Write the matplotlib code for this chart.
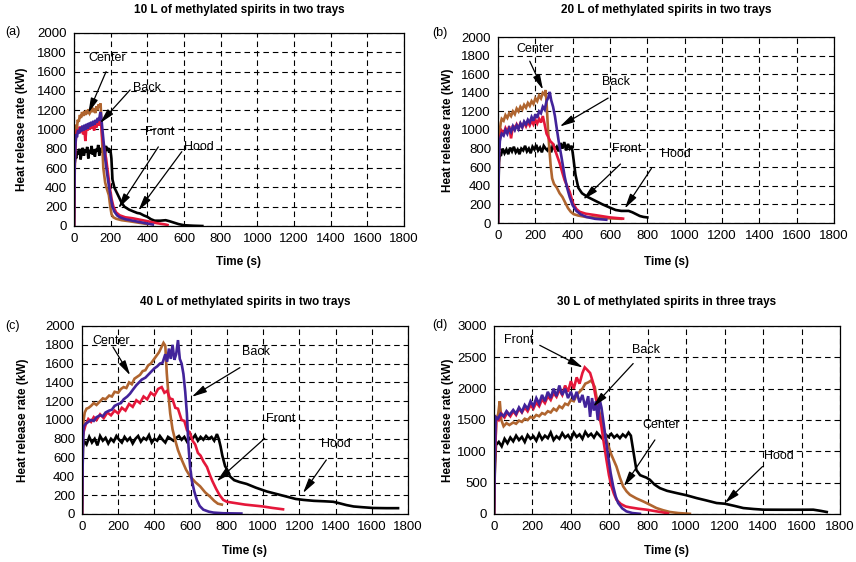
import matplotlib
matplotlib.use("Agg")
import matplotlib.pyplot as plt

# --- Data: (time s, heat release rate kW) ---

# (a) 10 L of methylated spirits in two trays
a_hood = [(0, 0), (4, 650), (8, 720), (12, 700), (18, 780), (24, 740), (30, 800), (36, 690), (42, 770),
          (48, 810), (54, 730), (60, 790), (66, 760), (72, 820), (78, 700), (84, 780), (90, 750), (96, 830),
          (102, 740), (108, 790), (114, 720), (120, 800), (126, 770), (132, 840), (138, 730), (144, 810),
          (150, 760), (156, 790), (162, 850), (168, 720), (174, 830), (180, 780), (186, 810), (192, 760),
          (198, 800), (204, 700), (210, 480), (220, 400), (230, 360), (245, 300), (260, 240), (275, 200),
          (300, 170), (325, 150), (345, 135), (360, 130), (380, 110), (400, 95), (420, 70), (440, 55),
          (470, 55), (500, 60), (520, 50), (545, 35), (570, 20), (600, 8), (650, 3), (700, 0)]
a_center = [(0, 0), (4, 700), (8, 950), (12, 1050), (16, 1000), (20, 1100), (26, 1080), (32, 1150),
            (38, 1120), (44, 1180), (50, 1140), (56, 1190), (62, 1150), (68, 1200), (74, 1160), (80, 1210),
            (86, 1170), (92, 1190), (98, 1230), (104, 1180), (110, 1220), (116, 1170), (122, 1240),
            (128, 1200), (134, 1260), (140, 1230), (145, 1270), (150, 1050), (155, 800), (160, 600),
            (170, 450), (180, 380), (190, 320), (198, 200), (205, 120), (215, 90), (230, 75), (260, 60),
            (300, 50), (350, 35), (400, 20)]
a_front = [(0, 0), (5, 700), (10, 900), (15, 980), (20, 1000), (26, 960), (32, 1030), (38, 990), (44, 1010),
           (50, 950), (56, 1020), (62, 880), (68, 1030), (74, 990), (80, 1040), (86, 1000), (92, 1050),
           (98, 1010), (104, 1040), (110, 990), (116, 1060), (122, 1020), (128, 1070), (134, 1040),
           (140, 1100), (148, 1050), (155, 900), (165, 800), (175, 700), (185, 550), (195, 400), (205, 280),
           (215, 200), (230, 140), (250, 110), (280, 90), (320, 80), (360, 65), (400, 50), (450, 30),
           (500, 15), (510, 10)]
a_back = [(0, 0), (4, 650), (8, 850), (12, 950), (16, 920), (22, 990), (28, 960), (34, 1020), (40, 980),
          (46, 1040), (52, 990), (58, 1050), (64, 1000), (70, 1060), (76, 1010), (82, 1070), (88, 1030),
          (94, 1080), (100, 1040), (106, 1090), (112, 1050), (118, 1100), (124, 1070), (130, 1120),
          (136, 1090), (142, 1160), (146, 1180), (150, 1100), (160, 900), (170, 700), (180, 550), (190, 420),
          (200, 300), (210, 200), (220, 150), (235, 110), (250, 90), (280, 70), (320, 55), (360, 40),
          (400, 25), (430, 15)]

# (b) 20 L of methylated spirits in two trays
b_hood = [(0, 0), (5, 650), (10, 760), (15, 720), (25, 800), (35, 750), (45, 790), (55, 740), (65, 810),
          (75, 770), (85, 820), (95, 760), (105, 790), (115, 740), (125, 800), (135, 780), (145, 830),
          (155, 770), (165, 800), (175, 750), (185, 820), (195, 790), (205, 840), (215, 780), (225, 810),
          (235, 760), (245, 830), (255, 800), (265, 780), (275, 820), (285, 760), (295, 850), (305, 790),
          (315, 820), (325, 770), (335, 860), (345, 800), (355, 870), (365, 780), (375, 850), (385, 800),
          (395, 830), (405, 680), (415, 520), (430, 380), (450, 320), (480, 280), (520, 240), (560, 200),
          (600, 165), (630, 140), (660, 130), (700, 130), (720, 115), (740, 95), (760, 75), (780, 65),
          (800, 60)]
b_center = [(0, 0), (5, 800), (10, 1000), (15, 1080), (20, 1120), (30, 1100), (40, 1160), (50, 1130),
            (60, 1180), (70, 1150), (80, 1200), (90, 1170), (100, 1230), (110, 1200), (120, 1250),
            (130, 1220), (140, 1270), (150, 1240), (160, 1290), (170, 1260), (180, 1310), (190, 1280),
            (200, 1340), (210, 1310), (220, 1370), (230, 1340), (240, 1400), (250, 1380), (255, 1430),
            (260, 1300), (268, 1000), (275, 800), (282, 620), (290, 480), (300, 420), (315, 380), (330, 320),
            (345, 280), (360, 220), (375, 160), (390, 120), (405, 95), (430, 80), (470, 65), (530, 58),
            (600, 50), (660, 45)]
b_front = [(0, 0), (5, 750), (10, 920), (15, 950), (20, 990), (30, 960), (40, 1020), (50, 980), (60, 1040),
           (70, 910), (80, 1050), (90, 1010), (100, 1060), (110, 1020), (120, 1070), (130, 1030), (140, 1080),
           (150, 1040), (160, 1090), (170, 1050), (180, 1100), (190, 1060), (200, 1110), (210, 1070),
           (220, 1120), (230, 1080), (240, 1150), (250, 1060), (260, 960), (268, 930), (280, 880), (295, 850),
           (310, 760), (331, 640), (345, 540), (357, 460), (370, 400), (384, 335), (395, 260), (402, 210),
           (420, 150), (438, 120), (470, 100), (527, 83), (600, 60), (670, 47)]
b_back = [(0, 0), (5, 700), (10, 880), (15, 930), (20, 960), (30, 940), (40, 1000), (50, 960), (60, 1020),
          (70, 980), (80, 1040), (90, 1000), (100, 1050), (110, 1010), (120, 1070), (130, 1030), (140, 1090),
          (150, 1060), (160, 1110), (170, 1080), (180, 1140), (190, 1100), (200, 1170), (210, 1130),
          (220, 1200), (230, 1180), (240, 1250), (250, 1220), (260, 1310), (270, 1350), (277, 1410),
          (285, 1320), (295, 1250), (305, 1150), (313, 1040), (325, 880), (340, 710), (357, 500), (370, 380),
          (384, 280), (400, 190), (420, 130), (445, 90), (474, 65), (520, 45), (580, 35)]

# (c) 40 L of methylated spirits in two trays
c_hood = [(0, 0), (5, 700), (10, 780), (25, 740), (40, 820), (55, 760), (70, 800), (85, 730), (100, 830),
          (115, 780), (130, 810), (145, 750), (160, 800), (175, 770), (190, 830), (205, 790), (220, 760),
          (235, 820), (250, 780), (265, 810), (280, 750), (295, 800), (310, 830), (325, 770), (340, 810),
          (355, 790), (370, 840), (385, 760), (400, 800), (415, 780), (430, 830), (445, 790), (460, 760),
          (475, 820), (490, 800), (505, 780), (520, 810), (535, 830), (550, 790), (565, 820), (580, 770),
          (595, 810), (610, 800), (625, 840), (640, 780), (655, 820), (670, 790), (685, 830), (700, 800),
          (715, 820), (730, 780), (745, 850), (755, 800), (765, 720), (775, 620), (790, 510), (805, 460),
          (817, 400), (840, 360), (870, 340), (909, 320), (960, 280), (1020, 240), (1080, 210), (1130, 185),
          (1180, 160), (1222, 150), (1280, 140), (1340, 135), (1387, 130), (1420, 115), (1460, 95),
          (1500, 80), (1550, 72), (1607, 64), (1680, 62), (1745, 62)]
c_center = [(0, 0), (5, 800), (9, 1000), (15, 1080), (25, 1120), (37, 1130), (50, 1150), (65, 1180),
            (80, 1160), (100, 1200), (115, 1230), (130, 1220), (150, 1260), (165, 1250), (180, 1300),
            (200, 1290), (215, 1330), (230, 1350), (245, 1340), (260, 1400), (275, 1380), (290, 1440),
            (305, 1460), (320, 1480), (335, 1520), (350, 1530), (365, 1580), (380, 1600), (395, 1640),
            (410, 1680), (425, 1720), (440, 1780), (450, 1820), (460, 1790), (468, 1500), (478, 1250),
            (487, 1070), (500, 900), (514, 790), (530, 680), (551, 575), (575, 470), (597, 400), (625, 340),
            (652, 295), (680, 230), (707, 185), (730, 140), (750, 110), (772, 100)]
c_front = [(0, 0), (3, 820), (10, 880), (20, 950), (35, 1010), (50, 980), (65, 1030), (80, 1000),
           (100, 1060), (120, 1020), (140, 1080), (160, 1050), (180, 1100), (200, 1070), (220, 1130),
           (240, 1100), (260, 1170), (280, 1140), (300, 1210), (320, 1180), (340, 1250), (360, 1220),
           (380, 1290), (400, 1260), (420, 1330), (440, 1350), (455, 1290), (470, 1310), (485, 1230),
           (500, 1220), (515, 1130), (530, 1120), (550, 1000), (565, 990), (580, 890), (595, 870), (610, 780),
           (625, 740), (640, 650), (655, 620), (670, 560), (690, 500), (705, 420), (720, 350), (740, 270),
           (760, 200), (780, 150), (800, 130), (850, 115), (900, 100), (950, 90), (1000, 80), (1050, 65),
           (1110, 50)]
c_back = [(0, 0), (5, 700), (9, 930), (20, 960), (35, 980), (50, 1000), (65, 990), (80, 1030), (100, 1050),
          (115, 1040), (130, 1080), (150, 1100), (165, 1110), (180, 1150), (200, 1170), (215, 1180),
          (230, 1220), (250, 1250), (265, 1280), (280, 1320), (300, 1370), (315, 1400), (330, 1430),
          (350, 1450), (365, 1480), (380, 1510), (400, 1550), (415, 1570), (430, 1600), (445, 1610),
          (460, 1700), (470, 1620), (480, 1760), (490, 1650), (500, 1800), (510, 1640), (520, 1700),
          (530, 1850), (540, 1650), (550, 1600), (560, 1490), (570, 1300), (579, 1070), (588, 720),
          (597, 500), (606, 360), (620, 240), (634, 150), (650, 85), (670, 46), (700, 25), (726, 15),
          (780, 8), (880, 5)]

# (d) 30 L of methylated spirits in three trays
d_hood = [(0, 0), (5, 800), (10, 1100), (25, 1150), (40, 1080), (55, 1200), (70, 1130), (85, 1220),
          (100, 1160), (115, 1250), (130, 1180), (145, 1230), (160, 1150), (175, 1260), (190, 1200),
          (205, 1240), (220, 1170), (235, 1280), (250, 1190), (265, 1250), (280, 1210), (295, 1300),
          (310, 1180), (325, 1240), (340, 1200), (355, 1290), (370, 1220), (385, 1260), (400, 1190),
          (415, 1300), (430, 1230), (445, 1270), (460, 1200), (475, 1310), (490, 1240), (505, 1280),
          (520, 1220), (535, 1300), (550, 1250), (565, 1200), (580, 1270), (595, 1230), (610, 1280),
          (625, 1220), (640, 1260), (655, 1210), (670, 1270), (685, 1230), (700, 1300), (712, 1250),
          (725, 1000), (741, 700), (760, 620), (776, 600), (793, 580), (811, 546), (835, 470), (863, 413),
          (900, 370), (950, 334), (1000, 300), (1054, 254), (1100, 220), (1158, 175), (1201, 164),
          (1250, 130), (1297, 95), (1350, 80), (1401, 69), (1500, 68), (1600, 68), (1661, 69), (1700, 50),
          (1731, 32)]
d_center = [(0, 0), (5, 900), (12, 1500), (22, 1600), (30, 1800), (38, 1500), (50, 1400), (65, 1450),
            (80, 1420), (100, 1460), (115, 1440), (130, 1490), (145, 1470), (160, 1520), (175, 1500),
            (190, 1550), (205, 1530), (220, 1580), (235, 1560), (250, 1610), (265, 1590), (280, 1640),
            (295, 1620), (310, 1680), (325, 1650), (340, 1720), (355, 1690), (370, 1760), (385, 1740),
            (400, 1820), (415, 1800), (430, 1900), (445, 1950), (460, 2000), (475, 2080), (490, 2100),
            (505, 2130), (515, 2080), (524, 2030), (537, 1800), (550, 1606), (567, 1400), (585, 1182),
            (610, 950), (637, 758), (655, 580), (672, 440), (690, 360), (707, 307), (740, 250), (776, 201),
            (810, 150), (845, 95), (880, 60), (915, 32), (960, 15), (1019, 3)]
d_front = [(0, 0), (5, 900), (12, 1550), (25, 1500), (40, 1600), (55, 1540), (70, 1620), (85, 1560),
           (100, 1640), (115, 1580), (130, 1680), (145, 1620), (160, 1700), (175, 1640), (190, 1740),
           (205, 1680), (220, 1780), (235, 1720), (250, 1830), (265, 1770), (280, 1880), (295, 1820),
           (310, 1930), (325, 1870), (340, 1980), (355, 1900), (370, 2050), (385, 1950), (400, 2120),
           (415, 2000), (430, 2180), (445, 2080), (460, 2250), (472, 2340), (485, 2300), (500, 2250),
           (515, 2100), (533, 1800), (546, 1600), (559, 1394), (572, 1120), (585, 864), (598, 620),
           (611, 440), (624, 320), (637, 228), (660, 160), (685, 120), (707, 106), (750, 85), (793, 69),
           (850, 40), (897, 16), (905, 10)]
d_back = [(0, 0), (5, 1000), (9, 1550), (20, 1520), (35, 1600), (50, 1560), (65, 1640), (80, 1580),
          (100, 1660), (115, 1600), (130, 1700), (145, 1630), (160, 1740), (175, 1680), (190, 1800),
          (205, 1720), (220, 1850), (235, 1760), (250, 1900), (265, 1800), (280, 1950), (295, 1850),
          (310, 2000), (325, 1880), (340, 2050), (355, 1900), (370, 2000), (385, 1850), (400, 1950),
          (415, 1820), (430, 1950), (445, 1780), (460, 1900), (475, 1700), (490, 1880), (500, 1550),
          (510, 1850), (520, 1650), (530, 1800), (540, 1500), (550, 1820), (559, 1700), (568, 1500),
          (581, 1200), (594, 917), (607, 650), (620, 440), (633, 280), (646, 175), (667, 90), (689, 42),
          (720, 15), (759, 3)]

# annotation: label, text centre, arrow tail, arrow tip (data coords)
a_notes = [("Center", (182, 1740), (175, 1600), (78, 1170)),
           ("Back", (397, 1430), (306, 1410), (142, 1065)),
           ("Front", (470, 970), (460, 820), (242, 183)),
           ("Hood", (682, 820), (588, 770), (351, 160))]
b_notes = [("Center", (197, 1870), (170, 1740), (241, 1433)),
           ("Back", (634, 1512), (590, 1343), (331, 1037)),
           ("Front", (692, 796), (656, 634), (456, 252)),
           ("Hood", (951, 738), (822, 587), (679, 155))]
c_notes = [("Center", (161, 1836), (171, 1776), (266, 1475)),
           ("Back", (960, 1723), (872, 1557), (606, 1246)),
           ("Front", (1097, 1006), (1009, 805), (743, 346)),
           ("Hood", (1404, 741), (1349, 575), (1220, 222))]
d_notes = [("Front", (130, 2783), (238, 2692), (463, 2337)),
           ("Back", (790, 2624), (724, 2401), (516, 1712)),
           ("Center", (871, 1420), (837, 1182), (675, 440)),
           ("Hood", (1484, 928), (1397, 758), (1201, 175))]

titles = ["10 L of methylated spirits in two trays", "20 L of methylated spirits in two trays",
          "40 L of methylated spirits in two trays", "30 L of methylated spirits in three trays"]
panel_tags = ["(a)", "(b)", "(c)", "(d)"]

COLORS = {"hood": "#000000", "center": "#B0652F", "front": "#E5173A", "back": "#42239A"}

plt.rcParams["font.family"] = ["Liberation Sans", "DejaVu Sans"]

W, H = 856, 562
fig = plt.figure(figsize=(W / 100, H / 100), dpi=100)


def px_axes(left, top, right, bottom):
    return fig.add_axes([left / W, 1 - bottom / H, (right - left) / W, (bottom - top) / H])


def draw_panel(ax, series, notes, ymax, ystep, ylab_x, xlab_y):
    for key, pts in series:
        t, q = zip(*pts)
        ax.plot(t, q, color=COLORS[key], lw=1.9, solid_joinstyle="miter")
    ax.set_xlim(0, 1800)
    ax.set_ylim(0, ymax)
    ax.set_xticks(range(0, 1801, 200))
    ax.set_yticks(range(0, ymax + 1, ystep))
    ax.grid(True, color="black", linestyle=(0, (5, 3.5)), linewidth=0.8)
    ax.tick_params(length=0, labelsize=9.5, pad=5)
    for s in ax.spines.values():
        s.set_linewidth(0.9)
    ax.set_ylabel("Heat release rate (kW)", fontsize=8.5, fontweight="bold", va="center")
    ax.set_xlabel("Time (s)", fontsize=8.5, fontweight="bold", va="center")
    ax.yaxis.set_label_coords(ylab_x, 0.5)
    ax.xaxis.set_label_coords(0.5, xlab_y)
    for label, txt, tail, tip in notes:
        ax.text(txt[0], txt[1], label, fontsize=9, ha="center", va="center")
        ax.annotate("", xy=tip, xytext=tail,
                    arrowprops=dict(arrowstyle="-|>,head_length=0.9,head_width=0.22",
                                    color="black", lw=0.9, shrinkA=0, shrinkB=0))


axes = [px_axes(74, 33, 404, 226), px_axes(498, 37, 834, 223),
        px_axes(82, 326, 408, 514), px_axes(494, 326, 840, 514)]

draw_panel(axes[0], [("hood", a_hood), ("center", a_center), ("front", a_front), ("back", a_back)],
           a_notes, 2000, 200, -0.158, -0.187)
draw_panel(axes[1], [("hood", b_hood), ("center", b_center), ("front", b_front), ("back", b_back)],
           b_notes, 2000, 200, -0.149, -0.21)
draw_panel(axes[2], [("hood", c_hood), ("center", c_center), ("front", c_front), ("back", c_back)],
           c_notes, 2000, 200, -0.181, -0.197)
draw_panel(axes[3], [("hood", d_hood), ("center", d_center), ("front", d_front), ("back", d_back)],
           d_notes, 3000, 500, -0.133, -0.197)

# titles and panel tags, placed in pixels
title_pos = [(239, 10), (666, 10), (245, 302), (667, 302)]
tag_pos = [(5, 32), (432, 33), (5, 326), (432, 325)]
for ttl, (x, y) in zip(titles, title_pos):
    fig.text(x / W, 1 - y / H, ttl, fontsize=8.5, fontweight="bold", ha="center", va="center")
for tag, (x, y) in zip(panel_tags, tag_pos):
    fig.text(x / W, 1 - y / H, tag, fontsize=9, ha="left", va="center")

fig.savefig("out.png", dpi=100)
